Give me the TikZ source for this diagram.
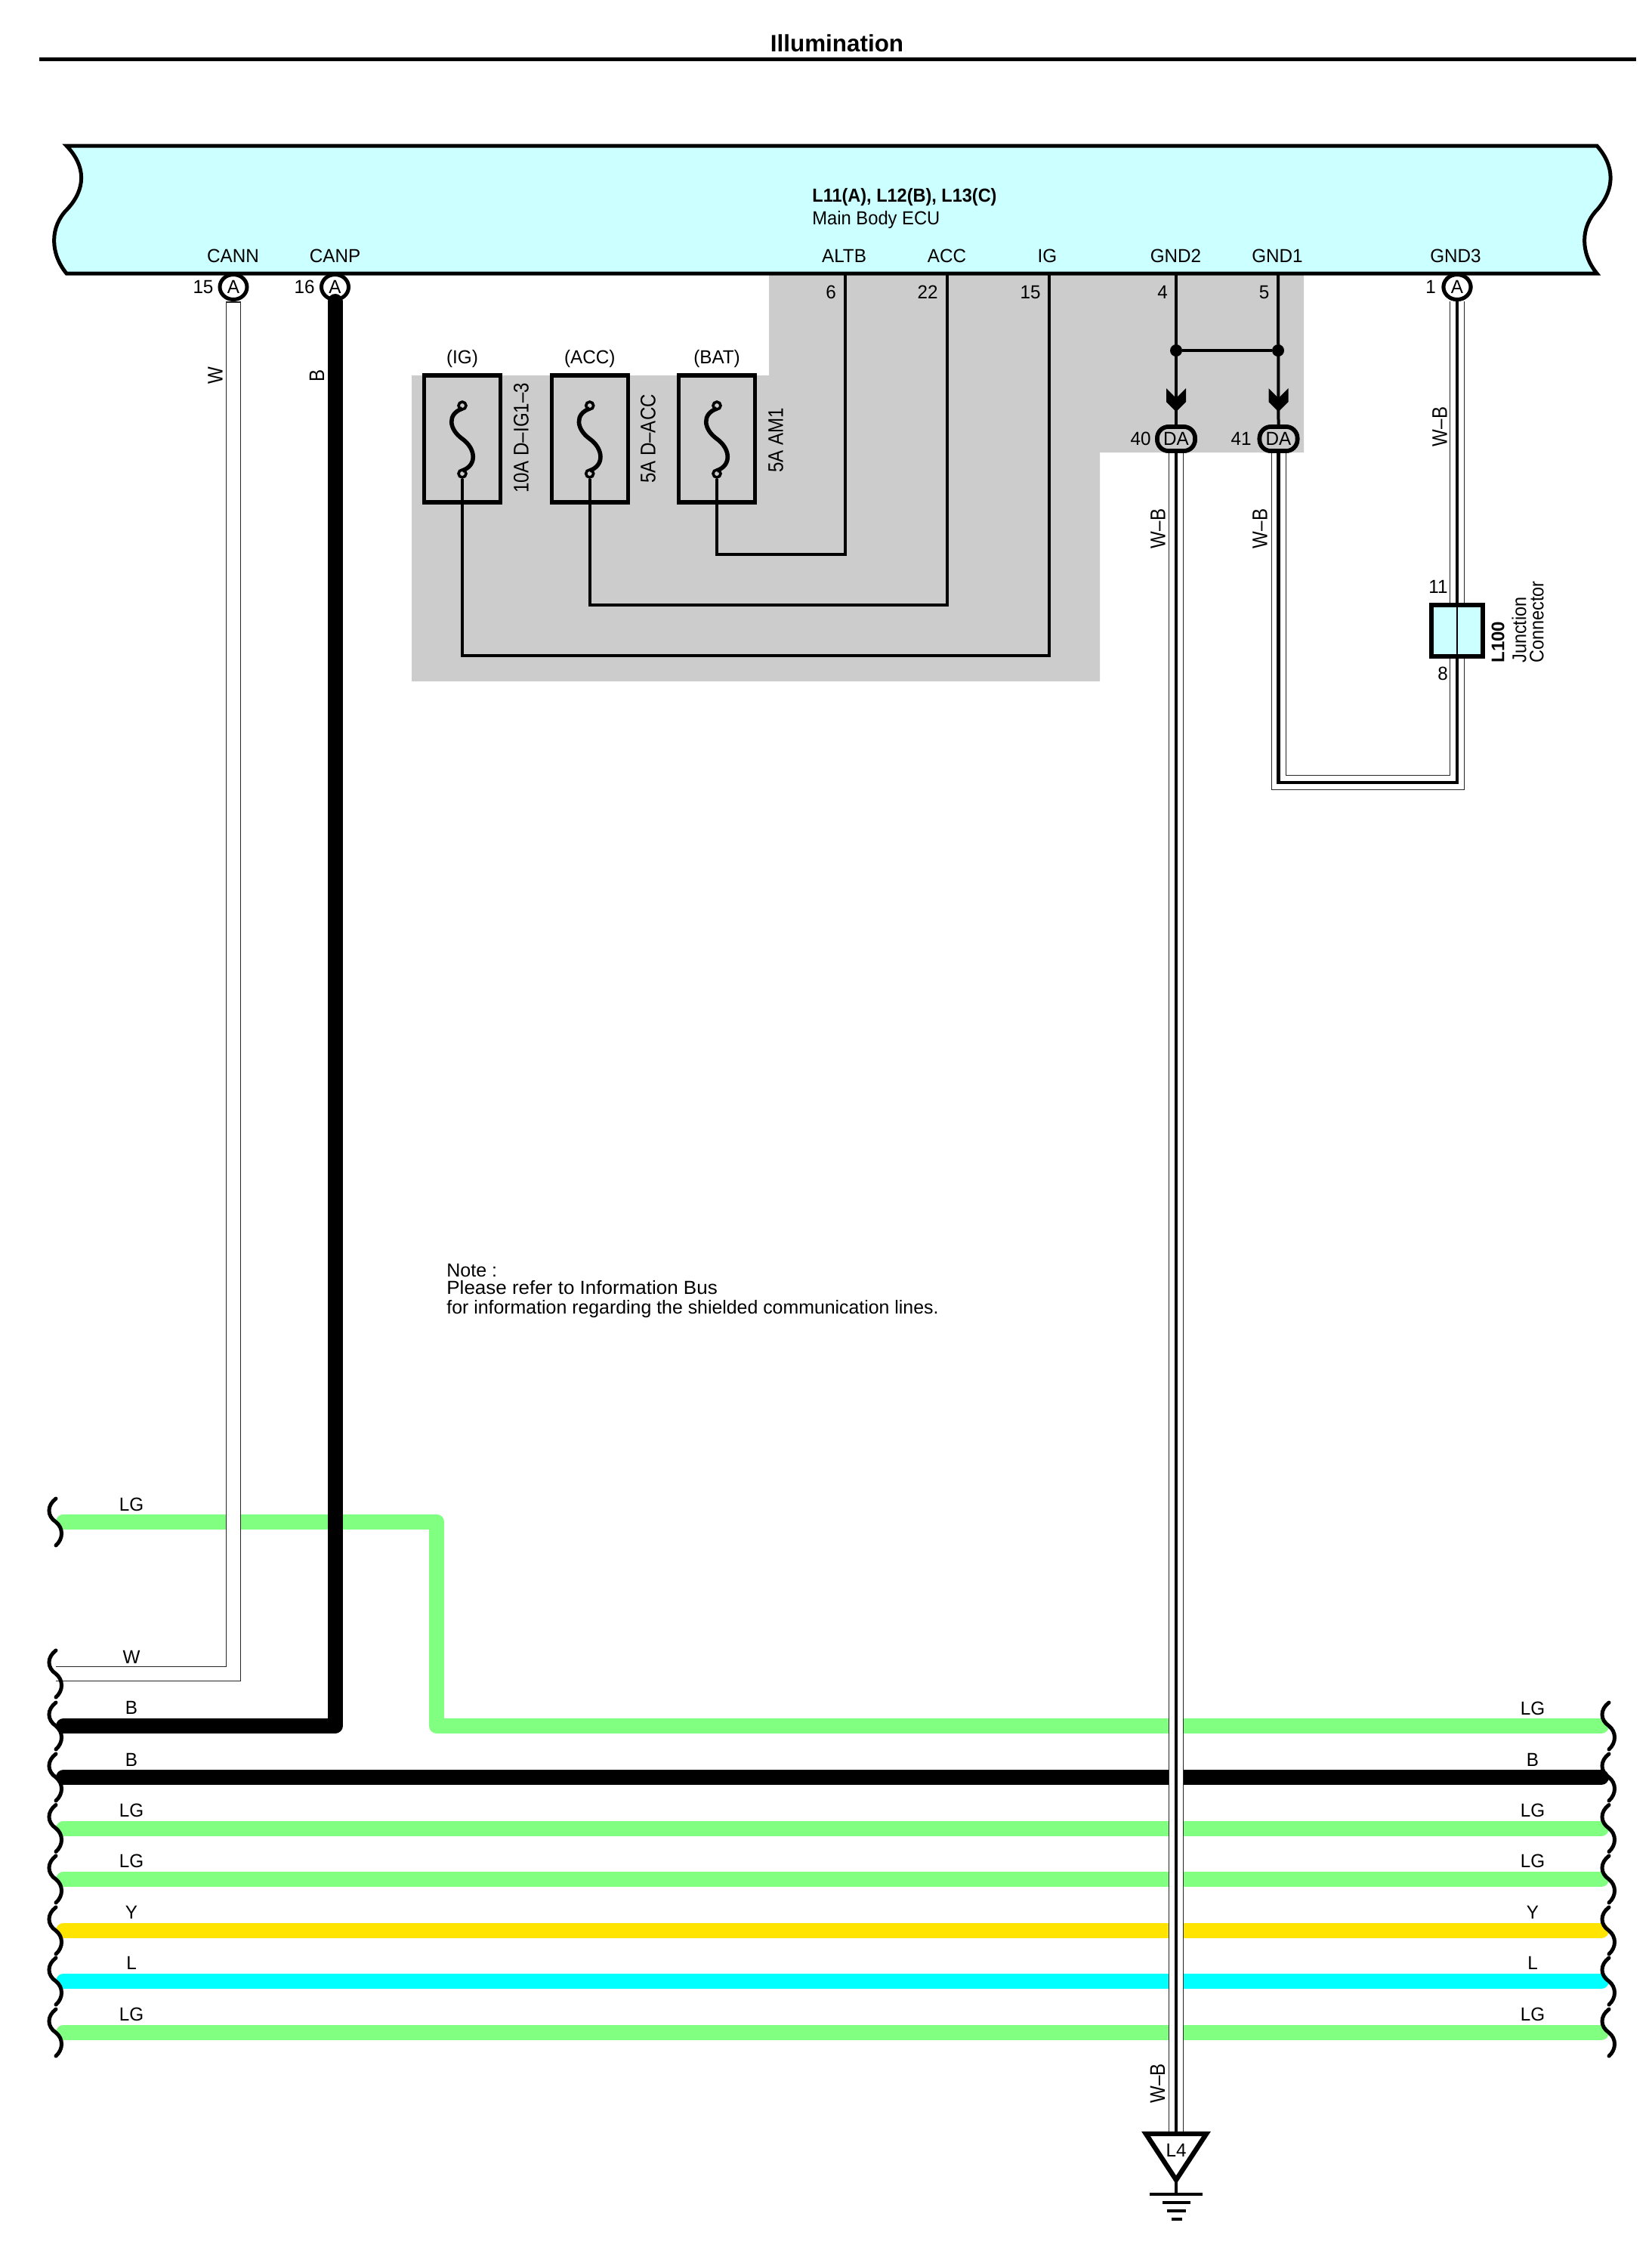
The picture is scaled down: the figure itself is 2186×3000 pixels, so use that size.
\documentclass[tikz,border=0pt]{standalone}
\usepackage{fontspec}
\usepackage{graphicx}
\setmainfont{Liberation Sans}
\usetikzlibrary{shapes.geometric}
\definecolor{ecuc}{HTML}{CCFFFF}
\definecolor{bgc}{HTML}{CCCCCC}
\definecolor{lgc}{HTML}{80FF80}
\definecolor{yc}{HTML}{FFE400}
\definecolor{lc}{HTML}{00FFFF}
\newcommand\hx[1]{\scalebox{0.97}[1]{#1}}
\newcommand\vx[1]{\scalebox{0.86}[1]{#1}}
\newcommand\squig[2]{\draw[squigline] (#1,#2-31) .. controls (#1-12,#2-22) and (#1-12,#2-8) .. (#1,#2) .. controls (#1+10,#2+8) and (#1+10,#2+22) .. (#1,#2+31);}
\newcommand\chevron[1]{\fill[black] ([xshift=-6.5pt,yshift=24pt]#1) -- ([yshift=17.5pt]#1) -- ([xshift=6.5pt,yshift=24pt]#1) -- ([xshift=6.5pt,yshift=15pt]#1) -- ([yshift=8.5pt]#1) -- ([xshift=-6.5pt,yshift=15pt]#1) -- cycle;}
\tikzset{
  lbl/.style={font=\fontsize{12.5}{15}\selectfont,inner sep=0pt,text=black},
  rlbl/.style={font=\fontsize{14}{16}\selectfont,inner sep=0pt,rotate=90,text=black},
  squigline/.style={line width=2.5pt,line cap=round,black},
  barwire/.style={line width=10pt,line cap=round,line join=round},
  shO/.style={line width=10pt,draw=black!85,line cap=butt,line join=miter},
  shI/.style={line width=9pt,draw=white,line cap=butt,line join=miter},
  core/.style={line width=2.4pt,draw=black,line cap=butt,line join=miter},
  thinw/.style={line width=2pt,black,line join=miter},
  conn/.style={ellipse,draw=black,fill=white,line width=2.5pt,minimum width=18pt,minimum height=16.5pt,inner sep=0pt,font=\fontsize{12.5}{15}\selectfont},
  daconn/.style={rectangle,rounded corners=7.5pt,draw=black,fill=bgc,line width=2.8pt,minimum width=25pt,minimum height=16pt,inner sep=0pt,font=\fontsize{12.5}{15}\selectfont},
  fusebox/.style={rectangle,draw=black,line width=2.7pt,minimum width=50.5pt,minimum height=84pt,inner sep=0pt},
  fusepin/.style={circle,draw=black,fill=bgc,line width=1.8pt,minimum size=5pt,inner sep=0pt},
  dotn/.style={circle,fill=black,minimum size=8pt,inner sep=0pt},
}
\begin{document}
\begin{tikzpicture}[x=0.5pt,y=-0.5pt]
\useasboundingbox (0,0) rectangle (2186,3000);
\fill[white] (0,0) rectangle (2186,3000);
% title
\node[font=\fontsize{15.7}{18}\bfseries,inner sep=0pt] (title) at (1108,57) {Illumination};
\draw[line width=2.5pt] (52,78) -- (2166,78);
% grey area
\fill[bgc] (1018,362) -- (1018,497) -- (545,497) -- (545,902) -- (1456,902) -- (1456,599) -- (1726,599) -- (1726,362) -- cycle;
% bars
\coordinate (lgA) at (84,2014.5);
\coordinate (lgB) at (578,2014.5);
\coordinate (lgC) at (578,2285);
\coordinate (lgD) at (2120,2285);
\draw[barwire,lgc] (lgA) -- (lgB) -- (lgC) -- (lgD);
\foreach \yy/\cc in {2353/black,2420.5/lgc,2488/lgc,2556/yc,2623/lc,2691/lgc}{
  \draw[barwire,\cc] (84,\yy) -- (2120,\yy);
}
% ECU
\draw[line width=2.5pt,fill=ecuc,line join=miter] (88,193) -- (2114,193)
  .. controls (2138,220) and (2138,250) .. (2115,277)
  .. controls (2092,300) and (2092,335) .. (2114,362)
  -- (88,362)
  .. controls (66,335) and (66,300) .. (89,277)
  .. controls (114,250) and (114,220) .. (88,193) -- cycle;
\node[font=\fontsize{12.5}{15}\bfseries,inner sep=0pt,anchor=west] (ecuT) at (1075,261) {\scalebox{0.94}[1]{L11(A), L12(B), L13(C)}};
\node[font=\fontsize{12.5}{15}\selectfont,inner sep=0pt,anchor=west] (ecuS) at (1075,291) {\scalebox{0.95}[1]{Main Body ECU}};
\node[lbl] (tCANN) at (308.5,339) {\hx{CANN}};
\node[lbl] (tCANP) at (443.5,339) {\hx{CANP}};
\node[lbl] (tALTB) at (1117.5,339) {\hx{ALTB}};
\node[lbl] (tACC) at (1253.5,339) {\hx{ACC}};
\node[lbl] (tIG) at (1386.5,339) {\hx{IG}};
\node[lbl] (tGND2) at (1556.5,339) {\hx{GND2}};
\node[lbl] (tGND1) at (1691,339) {\hx{GND1}};
\node[lbl] (tGND3) at (1927,339) {\hx{GND3}};
% ECU pins
\coordinate (pALTB) at (1119,362);
\coordinate (pACC) at (1254,362);
\coordinate (pIG) at (1389,362);
\coordinate (pG2) at (1557,362);
\coordinate (pG1) at (1692,362);
\node[conn] (c15) at (309,380) {\hx{A}};
\node[conn] (c16) at (443.5,380) {\hx{A}};
\node[conn] (c1) at (1929,380) {\hx{A}};
\node[lbl] (n15) at (269,380) {\hx{15}};
\node[lbl] (n16) at (403,380) {\hx{16}};
\node[lbl] (n1) at (1894,380) {\hx{1}};
\node[lbl] (n6) at (1100,387) {\hx{6}};
\node[lbl] (n22) at (1228,387) {\hx{22}};
\node[lbl] (n15b) at (1364,387) {\hx{15}};
\node[lbl] (n4) at (1539,387) {\hx{4}};
\node[lbl] (n5) at (1673.5,387) {\hx{5}};
% W wire
\coordinate (wc) at (309,2216);
\coordinate (we) at (74,2216);
\draw[shO] (c15.south) -- (wc) -- (we);
\draw[shI] ([yshift=-1pt]c15.south) -- (wc) -- (we);
% B wire
\coordinate (bc) at (443.5,2285);
\coordinate (be) at (84,2285);
\draw[barwire,black] (c16.south) -- (bc) -- (be);
% fuses
\foreach \nm/\xx/\tx in {a/612/(IG),b/780.7/(ACC),c/949/(BAT)}{
  \node[fusebox] (f\nm) at (\xx,581) {};
  \node[lbl] (ft\nm) at (\xx,475) {\hx{\tx}};
  \node[fusepin] (ft\nm p) at (\xx,537) {};
  \node[fusepin] (fb\nm p) at (\xx,627) {};
  \draw[line width=2.8pt] (\xx,541) .. controls (\xx-20,548) and (\xx-18,568) .. (\xx,581) .. controls (\xx+18,594) and (\xx+20,616) .. (\xx,623);
}
\node[rlbl] (fla) at (690,580) {\vx{10A D–IG1–3}};
\node[rlbl] (flb) at (858,581) {\vx{5A D–ACC}};
\node[rlbl] (flc) at (1027,583) {\vx{5A AM1}};
\coordinate (ca) at (1389,868);
\coordinate (cb) at (1254,801);
\coordinate (cc) at (1119,733.5);
\draw[thinw] (fbap) |- (ca) -- (pIG);
\draw[thinw] (fbbp) |- (cb) -- (pACC);
\draw[thinw] (fbcp) |- (cc) -- (pALTB);
% DA connectors
\node[daconn] (da40) at (1557,581) {\hx{DA}};
\node[daconn] (da41) at (1692.5,581) {\hx{DA}};
\node[lbl] (n40) at (1510,581) {\hx{40}};
\node[lbl] (n41) at (1643,581) {\hx{41}};
\draw[thinw] (pG2) -- (da40.north);
\draw[thinw] (pG1) -- (da41.north);
\chevron{da40.north}
\chevron{da41.north}
\node[dotn] (j2) at (1557,464) {};
\node[dotn] (j1) at (1692,464) {};
\draw[thinw] (j2) -- (j1);
% W-B wires
\coordinate (gt) at (1557,2825);
\draw[shO] (da40.south) -- (gt);
\draw[shI] (da40.south) -- (gt);
\draw[core] (da40.south) -- (gt);
\coordinate (w1) at (1692.5,1036);
\coordinate (w2) at (1929,1036);
\draw[shO] (da41.south) -- (w1) -- (w2) -- (c1.south);
\draw[shI] (da41.south) -- (w1) -- (w2) -- (c1.south);
\draw[core] (da41.south) -- (w1) -- (w2) -- (c1.south);
% redraw DA and circle caps
\node[conn] at (1929,380) {\hx{A}};
\node[daconn] at (1557,581) {\hx{DA}};
\node[daconn] at (1692.5,581) {\hx{DA}};
% L100
\node[rectangle,draw=black,fill=ecuc,line width=3pt,minimum width=34pt,minimum height=34pt,inner sep=0pt] (jc) at (1928.5,834.5) {};
\draw[line width=1pt] (jc.north) -- (jc.south);
\node[lbl] (n11) at (1904,777) {\hx{11}};
\node[lbl] (n8) at (1910,892) {\hx{8}};
\node[font=\fontsize{12}{14}\bfseries,inner sep=0pt,rotate=90,anchor=west] (jl) at (1983,878) {L100};
\node[font=\fontsize{13}{14}\selectfont,inner sep=0pt,rotate=90,anchor=west] (jj) at (2011,878) {\scalebox{0.9}[1]{Junction}};
\node[font=\fontsize{13}{14}\selectfont,inner sep=0pt,rotate=90,anchor=west] (jk) at (2034.5,878) {\scalebox{0.9}[1]{Connector}};
% Wire labels rotated
\node[rlbl] (lW) at (285,497) {\vx{W}};
\node[rlbl] (lB) at (419.5,497) {\vx{B}};
\node[rlbl] (lwb1) at (1533,700) {\vx{W–B}};
\node[rlbl] (lwb2) at (1668,700) {\vx{W–B}};
\node[rlbl] (lwb3) at (1906,565) {\vx{W–B}};
\node[rlbl] (lwb4) at (1532.5,2758) {\vx{W–B}};
% note
\node[lbl,anchor=west] (nt1) at (591,1682) {Note :};
\node[lbl,anchor=west] (nt2) at (591,1705) {\scalebox{1.04}[1]{Please refer to Information Bus}};
\node[lbl,anchor=west] (nt3) at (591,1733) {\scalebox{0.995}[1]{for information regarding the shielded communication lines.}};
% left labels
\node[lbl] (la) at (174,1992) {\hx{LG}};
\node[lbl] (lb) at (174,2194) {\hx{W}};
\node[lbl] (lc) at (174,2261) {\hx{B}};
\node[lbl] (ld) at (174,2330) {\hx{B}};
\node[lbl] (le) at (174,2397) {\hx{LG}};
\node[lbl] (lf) at (174,2464) {\hx{LG}};
\node[lbl] (lg) at (174,2532) {\hx{Y}};
\node[lbl] (lh) at (174,2599) {\hx{L}};
\node[lbl] (li) at (174,2667) {\hx{LG}};
% right labels
\node[lbl] (ra) at (2029,2262) {\hx{LG}};
\node[lbl] (rb) at (2029,2330) {\hx{B}};
\node[lbl] (rc) at (2029,2397) {\hx{LG}};
\node[lbl] (rd) at (2029,2464) {\hx{LG}};
\node[lbl] (re) at (2029,2532) {\hx{Y}};
\node[lbl] (rf) at (2029,2599) {\hx{L}};
\node[lbl] (rg) at (2029,2667) {\hx{LG}};
% squiggles
\foreach \yy in {2015,2216,2285,2353,2420.5,2488,2556,2623,2691}{\squig{74}{\yy}}
\foreach \yy in {2285,2353,2420.5,2488,2556,2623,2691}{\squig{2130}{\yy}}
% ground
\draw[line width=3.2pt,fill=white,line join=miter] (1517,2825) -- (1597,2825) -- (1557,2886) -- cycle;
\node[lbl] (l4) at (1557,2847) {\hx{L4}};
\coordinate (gs) at (1557,2886);
\coordinate (g1) at (1557,2905);
\draw[thinw] (gs) -- (g1);
\draw[line width=2pt] (1522,2905) -- (1592,2905);
\draw[line width=2pt] (1539,2915.5) -- (1576,2915.5);
\draw[line width=2pt] (1544.5,2927) -- (1570,2927);
\draw[line width=2pt] (1551,2938) -- (1565,2938);
\end{tikzpicture}
\end{document}
